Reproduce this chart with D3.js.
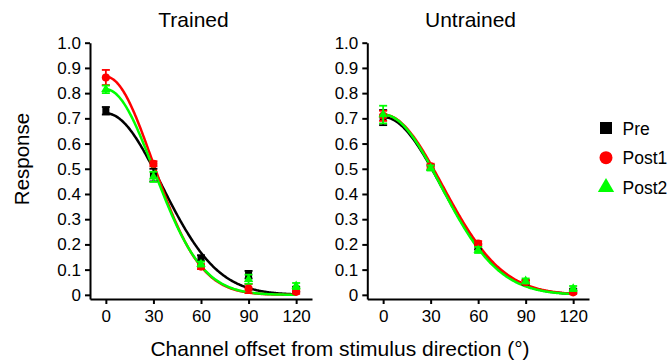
<!DOCTYPE html>
<html>
<head>
<meta charset="utf-8">
<script src="https://cdn.jsdelivr.net/npm/d3@7"></script>
<style>
  html, body { margin: 0; padding: 0; background: #fff; }
  svg { display: block; font-family: "Liberation Sans", Arial, Helvetica, sans-serif; }
</style>
</head>
<body>
<svg id="chart" width="672" height="360"></svg>
<script>
// ---------------- DATA ----------------
const offsets = [0, 30, 60, 90, 120];
const xTicks = [0, 30, 60, 90, 120];
const yTicks = [0, 0.1, 0.2, 0.3, 0.4, 0.5, 0.6, 0.7, 0.8, 0.9, 1.0];
const panelTitles = ["Trained", "Untrained"];
const seriesNames = ["Pre", "Post1", "Post2"];
const seriesColors = ["#000000", "#ff0000", "#00ff00"];
const seriesShapes = ["square", "circle", "triangle"];

// Trained
const trainedPre = [0.730, 0.475, 0.145, 0.080, 0.022];
const trainedPreErr = [0.015, 0.025, 0.012, 0.015, 0.010];
const trainedPost1 = [0.862, 0.520, 0.112, 0.025, 0.012];
const trainedPost1Err = [0.030, 0.010, 0.010, 0.018, 0.008];
const trainedPost2 = [0.815, 0.468, 0.122, 0.062, 0.035];
const trainedPost2Err = [0.015, 0.020, 0.010, 0.018, 0.012];
// Untrained
const untrainedPre = [0.703, 0.505, 0.190, 0.050, 0.015];
const untrainedPreErr = [0.030, 0.010, 0.010, 0.008, 0.008];
const untrainedPost1 = [0.710, 0.510, 0.203, 0.050, 0.010];
const untrainedPost1Err = [0.020, 0.010, 0.010, 0.008, 0.006];
const untrainedPost2 = [0.715, 0.503, 0.178, 0.055, 0.025];
const untrainedPost2Err = [0.035, 0.010, 0.012, 0.010, 0.010];

// Gaussian fit parameters [amplitude, sigma] per series
const trainedFitAmp = [0.720, 0.865, 0.815];
const trainedFitSigma = [35.1, 29.7, 30.3];
const untrainedFitAmp = [0.705, 0.715, 0.715];
const untrainedFitSigma = [37.0, 37.5, 36.4];

// ---------------- DRAW ----------------
const svg = d3.select("#chart");
const FONT_TICK = 17;

const panels = [
  { title: panelTitles[0], x0: 90, x1: 312, titleX: 193.5,
    values: [trainedPre, trainedPost1, trainedPost2],
    errs: [trainedPreErr, trainedPost1Err, trainedPost2Err],
    amp: trainedFitAmp, sigma: trainedFitSigma },
  { title: panelTitles[1], x0: 367.3, x1: 589, titleX: 470.5,
    values: [untrainedPre, untrainedPost1, untrainedPost2],
    errs: [untrainedPreErr, untrainedPost1Err, untrainedPost2Err],
    amp: untrainedFitAmp, sigma: untrainedFitSigma }
];

const y = d3.scaleLinear().domain([-0.0165, 1.0]).range([299, 42.7]);

const symbolFor = { square: d3.symbolSquare, circle: d3.symbolCircle, triangle: d3.symbolTriangle };
const plotSize = { square: 49, circle: 52, triangle: 38 };

panels.forEach(p => {
  const x = d3.scaleLinear().domain([-10, 130]).range([p.x0, p.x1]);
  const g = svg.append("g");

  // axes
  const xAxis = d3.axisBottom(x).tickValues(xTicks).tickSize(5).tickSizeOuter(0).tickPadding(6);
  const yAxis = d3.axisLeft(y).tickValues(yTicks).tickSize(5).tickSizeOuter(0).tickPadding(4)
    .tickFormat(d => d === 0 ? "0" : d3.format(".1f")(d));

  const gx = g.append("g").attr("transform", `translate(0,${y.range()[0]})`).call(xAxis);
  const gy = g.append("g").attr("transform", `translate(${p.x0},0)`).call(yAxis);
  [gx, gy].forEach(a => {
    a.select(".domain").attr("stroke", "#000").attr("stroke-width", 2);
    a.selectAll(".tick line").attr("stroke", "#000").attr("stroke-width", 2);
    a.selectAll(".tick text").attr("fill", "#000").attr("font-size", FONT_TICK)
      .attr("font-family", "'Liberation Sans', Arial, Helvetica, sans-serif");
  });

  // title
  g.append("text").attr("x", p.titleX).attr("y", 27).attr("text-anchor", "middle")
    .attr("font-size", 21).attr("fill", "#000").text(p.title);

  // fitted curves
  const curveX = d3.range(0, 120.5, 0.5);
  const line = d3.line().x(d => x(d[0])).y(d => y(d[1]));
  p.amp.forEach((A, i) => {
    const s = p.sigma[i];
    const pts = curveX.map(v => [v, A * Math.exp(-(v * v) / (2 * s * s))]);
    g.append("path").datum(pts).attr("d", line).attr("fill", "none")
      .attr("stroke", seriesColors[i]).attr("stroke-width", 2.5);
  });

  // points + error bars
  p.values.forEach((vals, i) => {
    const col = seriesColors[i];
    const errs = p.errs[i];
    const sg = g.append("g");
    vals.forEach((v, k) => {
      const cx = x(offsets[k]);
      const e = errs[k];
      sg.append("line").attr("x1", cx).attr("x2", cx).attr("y1", y(v - e)).attr("y2", y(v + e))
        .attr("stroke", col).attr("stroke-width", 1.8);
      [v - e, v + e].forEach(w => {
        sg.append("line").attr("x1", cx - 4).attr("x2", cx + 4).attr("y1", y(w)).attr("y2", y(w))
          .attr("stroke", col).attr("stroke-width", 1.8);
      });
      sg.append("path")
        .attr("d", d3.symbol().type(symbolFor[seriesShapes[i]]).size(plotSize[seriesShapes[i]])())
        .attr("transform", `translate(${cx},${y(v)})`).attr("fill", col);
    });
  });
});

// axis labels
svg.append("text").attr("x", 340).attr("y", 355.5).attr("text-anchor", "middle")
  .attr("font-size", 21).attr("fill", "#000").text("Channel offset from stimulus direction (°)");
svg.append("text").attr("transform", "translate(29,159) rotate(-90)").attr("text-anchor", "middle")
  .attr("font-size", 20.5).attr("fill", "#000").text("Response");

// legend
const legendSize = { square: 144, circle: 133, triangle: 115 };
const legendY = [128, 157.7, 187.3];
const legendTextY = [135, 164.3, 193.6];
seriesNames.forEach((name, i) => {
  svg.append("path")
    .attr("d", d3.symbol().type(symbolFor[seriesShapes[i]]).size(legendSize[seriesShapes[i]])())
    .attr("transform", `translate(606,${legendY[i]})`).attr("fill", seriesColors[i]);
  svg.append("text").attr("x", 622.5).attr("y", legendTextY[i]).attr("font-size", 17.5)
    .attr("fill", "#000").text(name);
});
</script>
</body>
</html>
